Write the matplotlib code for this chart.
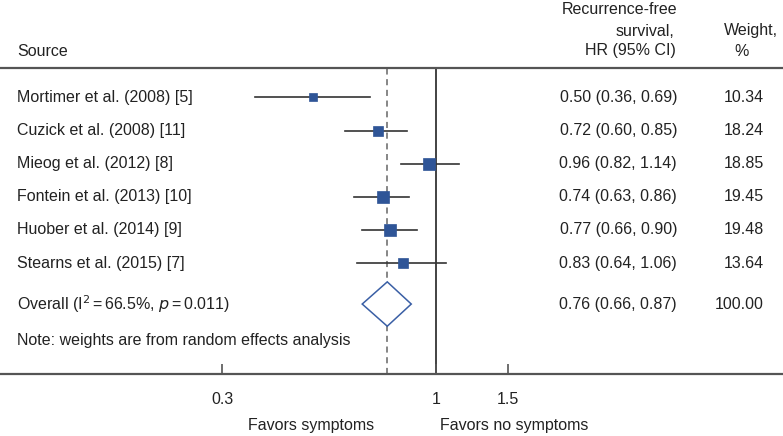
import numpy as np
import matplotlib
matplotlib.use("Agg")
import matplotlib.pyplot as plt
from matplotlib.ticker import FixedLocator, FixedFormatter, NullLocator

plt.rcParams['font.family'] = ['Liberation Sans', 'DejaVu Sans']

# ---- data ----
studies = ["Mortimer et al. (2008) [5]", "Cuzick et al. (2008) [11]",
           "Mieog et al. (2012) [8]", "Fontein et al. (2013) [10]",
           "Huober et al. (2014) [9]", "Stearns et al. (2015) [7]"]
hr = [0.50, 0.72, 0.96, 0.74, 0.77, 0.83]
lo = [0.36, 0.60, 0.82, 0.63, 0.66, 0.64]
hi = [0.69, 0.85, 1.14, 0.86, 0.90, 1.06]
weights = [10.34, 18.24, 18.85, 19.45, 19.48, 13.64]
overall_hr, overall_lo, overall_hi = 0.76, 0.66, 0.87
overall_label = r"Overall (I$^2$$\,$=$\,$66.5%, $p\,$=$\,$0.011)"
note = "Note: weights are from random effects analysis"
tick_vals = [0.3, 1, 1.5]
tick_labels = ["0.3", "1", "1.5"]

W, H = 783, 436
fig = plt.figure(figsize=(W / 100, H / 100), dpi=100)

def fx(px):
    return px / W

def fy(py):
    return 1 - py / H

top_px, bot_px = 68, 374
ax = fig.add_axes([0, fy(bot_px), 1, (bot_px - top_px) / H])
ax.set_xscale('log')
ppu = 177.6  # pixels per ln unit
x1_px = 436
ax.set_xlim(np.exp(-x1_px / ppu), np.exp((W - x1_px) / ppu))
row0_px, row_step = 97.5, 33.1
ax.set_ylim((bot_px - row0_px) / row_step, (top_px - row0_px) / row_step)

for s in ['left', 'right']:
    ax.spines[s].set_visible(False)
for s in ['top', 'bottom']:
    ax.spines[s].set_color('#555555')
    ax.spines[s].set_linewidth(1.6)
ax.set_yticks([])
ax.xaxis.set_major_locator(FixedLocator(tick_vals))
ax.xaxis.set_major_formatter(FixedFormatter(tick_labels))
ax.xaxis.set_minor_locator(NullLocator())
ax.tick_params(axis='x', direction='in', length=7, width=1.2, color='#555555',
               pad=13, labelsize=11.5, labelcolor='#222222')

# reference lines
ax.axvline(1, color='#222222', lw=1.2, zorder=1)
ax.axvline(overall_hr, color='#666666', lw=1.1, ls=(0, (4, 3)), zorder=1)

blue = '#2F5597'
text_color = '#222222'
fs = 11.5
ys = np.arange(len(studies))
for i, y in enumerate(ys):
    ax.plot([lo[i], hi[i]], [y, y], color='#333333', lw=1.2, zorder=2)
    side_px = 2.55 * np.sqrt(weights[i])
    ax.plot(hr[i], y, marker='s', ms=side_px * 0.72, color=blue, mec=blue,
            mew=0.5, zorder=3)
    fig.text(fx(17), 0, '')
    ax.text(fx(17), y, studies[i], transform=ax.get_yaxis_transform(),
            ha='left', va='center', fontsize=fs, color=text_color)
    ax.text(fx(677), y, f"{hr[i]:.2f} ({lo[i]:.2f}, {hi[i]:.2f})",
            transform=ax.get_yaxis_transform(), ha='right', va='center',
            fontsize=fs, color=text_color)
    ax.text(fx(764), y, f"{weights[i]:.2f}", transform=ax.get_yaxis_transform(),
            ha='right', va='center', fontsize=fs, color=text_color)

# overall diamond
y_ov = 6.24
dh = 0.67
ax.fill([overall_lo, overall_hr, overall_hi, overall_hr],
        [y_ov, y_ov - dh, y_ov, y_ov + dh], facecolor='white',
        edgecolor='#3A5FA5', lw=1.1, zorder=3)
ax.text(fx(17), y_ov, overall_label, transform=ax.get_yaxis_transform(),
        ha='left', va='center', fontsize=fs, color=text_color)
ax.text(fx(677), y_ov, f"{overall_hr:.2f} ({overall_lo:.2f}, {overall_hi:.2f})",
        transform=ax.get_yaxis_transform(), ha='right', va='center',
        fontsize=fs, color=text_color)
ax.text(fx(764), y_ov, f"{100:.2f}", transform=ax.get_yaxis_transform(),
        ha='right', va='center', fontsize=fs, color=text_color)
ax.text(fx(17), 7.33, note, transform=ax.get_yaxis_transform(),
        ha='left', va='center', fontsize=fs, color=text_color)

# headers
fig.text(fx(17), fy(51), "Source", ha='left', va='center', fontsize=fs, color=text_color)
fig.text(fx(677), fy(10), "Recurrence-free", ha='right', va='center', fontsize=fs, color=text_color)
fig.text(fx(674), fy(31), "survival,", ha='right', va='center', fontsize=fs, color=text_color)
fig.text(fx(676), fy(51), "HR (95% CI)", ha='right', va='center', fontsize=fs, color=text_color)
fig.text(fx(751), fy(31), "Weight,", ha='center', va='center', fontsize=fs, color=text_color)
fig.text(fx(742), fy(51), "%", ha='center', va='center', fontsize=fs, color=text_color)

# favors labels
fig.text(fx(311), fy(425), "Favors symptoms", ha='center', va='center', fontsize=fs, color=text_color)
fig.text(fx(514), fy(425), "Favors no symptoms", ha='center', va='center', fontsize=fs, color=text_color)

fig.savefig("out.png", dpi=100, facecolor='white')
